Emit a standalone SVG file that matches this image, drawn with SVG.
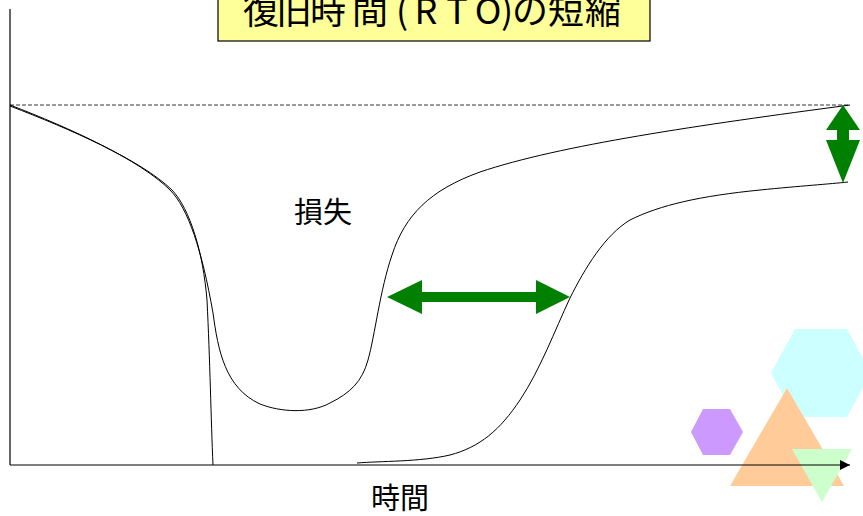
<svg xmlns="http://www.w3.org/2000/svg" width="863" height="516" viewBox="0 0 863 516">
  <style>
    .jp { font-family: "Noto Sans CJK JP", "Noto Sans", sans-serif; fill: #000; }
    .curve { fill: none; stroke: #000; stroke-width: 1; }
    .axis { fill: none; stroke: #000; stroke-width: 1.2; }
    .green { fill: #008000; stroke: none; }
  </style>
  <defs>
    <marker id="axisHead" markerWidth="10" markerHeight="10" refX="10" refY="5" orient="auto" markerUnits="userSpaceOnUse">
      <path d="M0,0 L10,5 L0,10 Z" fill="#000"/>
    </marker>
  </defs>

  <rect width="863" height="516" fill="#fff"/>

  <!-- decorative shapes, bottom right -->
  <g id="decor">
    <polygon points="771,373 795,329 847,329 871,373 847,417 795,417" fill="#CCFFFF"/>
    <polygon points="691,432 703,409 730,409 743,432 730,455 703,455" fill="#CC99FF"/>
    <polygon points="787,388 844,486 730,486" fill="#FFCC99"/>
    <polygon points="792,449 852,449 822,502" fill="#CCFFCC"/>
  </g>

  <!-- title -->
  <g id="title">
    <rect x="218" y="-5" width="432" height="46" fill="#FFFF99" stroke="#000" stroke-width="1.2"/>
    <text class="jp" font-size="36" text-anchor="middle" y="24"
          x="261 294 328 370 402 426 457 488 507 530 566 603">復旧時間(RTO)の短縮</text>
  </g>

  <!-- axes and baseline reference -->
  <g id="axes">
    <line class="axis" x1="10" y1="9" x2="10" y2="465"/>
    <line class="axis" x1="10" y1="465" x2="850" y2="465" marker-end="url(#axisHead)"/>
    <line x1="10" y1="105" x2="850" y2="105" stroke="#000" stroke-width="0.8" stroke-dasharray="4 2"/>
  </g>

  <!-- recovery curves -->
  <g id="curves">
    <!-- short recovery: dip and quick return -->
    <path class="curve" d="M10,105 C70,128 140,160 170,190 C188,208 202,250 213,313 C218,350 225,388 260,404 C280,412 310,414 330,403 C350,393 362,382 368,360 C375,335 380,290 392,255 C405,215 430,190 480,172 C560,145 700,125 850,105"/>
    <!-- long recovery: drop to zero -->
    <path class="curve" d="M10,106 C70,129 141,160 172,190 C190,209 203,252 207,300 C210,360 211,420 213,465"/>
    <path class="curve" d="M357,463 C380,461 420,462 450,455 C480,447 500,430 520,400 C540,370 555,330 570,298 C585,268 605,235 630,220 C660,205 700,196 760,190 C800,186 830,184 848,182"/>
  </g>

  <!-- green arrows -->
  <g id="rto-arrow">
    <polygon class="green" points="387,297 422,280 422,292 536,292 536,280 570,297 536,314 536,302 422,302 422,314"/>
  </g>
  <g id="gap-arrow">
    <polygon class="green" points="843,105 860,130 849,130 849,140 860,140 843,183 826,140 837,140 837,130 826,130"/>
  </g>

  <!-- labels -->
  <g id="loss-label">
    <text class="jp" x="294" y="223" font-size="29">損失</text>
  </g>
  <g id="time-label">
    <text class="jp" x="371" y="509" font-size="29">時間</text>
  </g>
</svg>
